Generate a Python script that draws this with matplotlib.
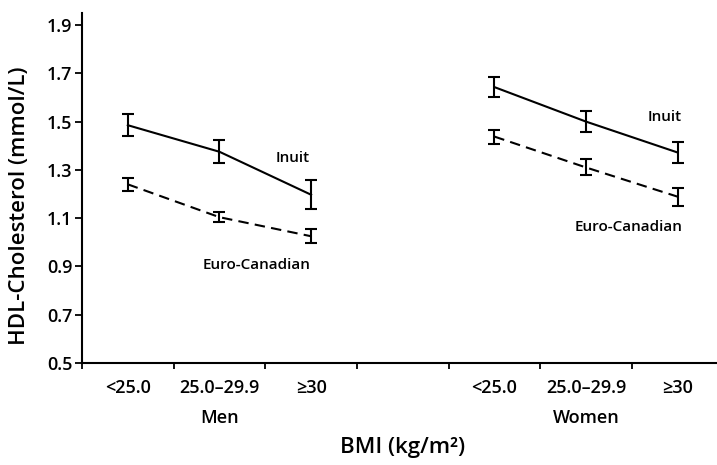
import numpy as np
import matplotlib
matplotlib.use('Agg')
import matplotlib.pyplot as plt

plt.rcParams['font.family'] = ['Open Sans', 'DejaVu Sans']
plt.rcParams['font.weight'] = 'semibold'

# bmi groups, men on the left block, women on the right block
bmi_labels = ['<25.0', '25.0\u201329.9', '\u226530']
men_x = [0.5, 1.5, 2.5]
women_x = [4.5, 5.5, 6.5]

men_inuit = [1.485, 1.375, 1.197]
men_inuit_err = [0.046, 0.048, 0.061]
men_euro = [1.240, 1.104, 1.025]
men_euro_err = [0.027, 0.021, 0.030]

women_inuit = [1.643, 1.500, 1.372]
women_inuit_err = [0.043, 0.042, 0.045]
women_euro = [1.438, 1.310, 1.189]
women_euro_err = [0.029, 0.033, 0.037]

yticks = [0.5, 0.7, 0.9, 1.1, 1.3, 1.5, 1.7, 1.9]


def draw_group(ax, x, vals, err, ls):
    ax.errorbar(x, vals, yerr=err, color='black', lw=1.5, ls=ls,
                elinewidth=1.5, capsize=4.3, capthick=1.5)


def main():
    fig = plt.figure(figsize=(7.17, 4.65), dpi=100)
    ax = fig.add_axes([0.1144, 0.2194, 0.8856, 0.7527])

    dash = (0, (5, 3))
    draw_group(ax, men_x, men_inuit, men_inuit_err, '-')
    draw_group(ax, men_x, men_euro, men_euro_err, dash)
    draw_group(ax, women_x, women_inuit, women_inuit_err, '-')
    draw_group(ax, women_x, women_euro, women_euro_err, dash)

    ax.text(2.49, 1.349, 'Inuit', ha='right', va='center', fontsize=11)
    ax.text(2.49, 0.906, 'Euro-Canadian', ha='right', va='center', fontsize=11)
    ax.text(6.55, 1.519, 'Inuit', ha='right', va='center', fontsize=11)
    ax.text(6.55, 1.063, 'Euro-Canadian', ha='right', va='center', fontsize=11)

    ax.set_xlim(0, 6.93)
    ax.set_ylim(0.5, 1.95)
    ax.set_yticks(yticks)
    ax.set_yticklabels(['%.1f' % t for t in yticks], fontsize=13)
    ax.set_xticks(np.arange(0, 7))
    ax.set_xticklabels([])
    ax.tick_params(axis='y', length=5, width=1.3, pad=2)
    ax.tick_params(axis='x', length=4, width=1.3)

    for s in ['top', 'right']:
        ax.spines[s].set_visible(False)
    ax.spines['left'].set_linewidth(1.5)
    ax.spines['bottom'].set_linewidth(1.5)

    # category labels below the axis
    for xs in (men_x, women_x):
        for xv, lab in zip(xs, bmi_labels):
            ax.text(xv, 0.395, lab, ha='center', va='center', fontsize=13,
                    clip_on=False)
    ax.text(1.5, 0.27, 'Men', ha='center', va='center', fontsize=13, clip_on=False)
    ax.text(5.5, 0.27, 'Women', ha='center', va='center', fontsize=13, clip_on=False)

    fig.text(403 / 717, 1 - 447 / 465, 'BMI (kg/m\u00b2)', ha='center', va='center',
             fontsize=16)
    fig.text(20 / 717, 1 - 206 / 465, 'HDL-Cholesterol (mmol/L)', ha='center',
             va='center', rotation=90, fontsize=16)

    fig.savefig('out.png', dpi=100)


if __name__ == '__main__':
    main()
